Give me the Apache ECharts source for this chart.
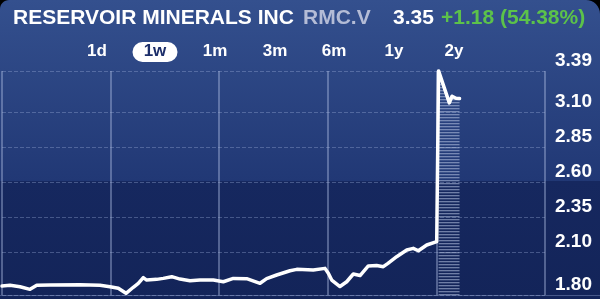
<!DOCTYPE html>
<html>
<head>
<meta charset="utf-8">
<script src="https://cdn.jsdelivr.net/npm/echarts@6/dist/echarts.min.js"></script>
<style>
html,body{margin:0;padding:0;background:#1a2d6a;}
#chart{width:600px;height:299px;}
</style>
</head>
<body>
<div id="chart"></div>
<script>
// ---- data ----
var titleText = 'RESERVOIR MINERALS INC';
var tickerText = 'RMC.V';
var lastPrice = '3.35';
var changeText = '+1.18 (54.38%)';
var periods = ['1d', '1w', '1m', '3m', '6m', '1y', '2y'];
var activePeriod = '1w';
var yTickValues = [1.80, 2.10, 2.35, 2.60, 2.85, 3.10, 3.39];
// position in trading days (0..5) and price
var dayPos = [0, 0.074, 0.166, 0.258, 0.320, 0.442, 0.718, 0.902, 0.994, 1.071, 1.142, 1.209, 1.255, 1.301, 1.332,
  1.424, 1.485, 1.563, 1.639, 1.731, 1.823, 1.946, 2.038, 2.130, 2.253, 2.376, 2.437, 2.529, 2.652, 2.714,
  2.866, 2.974, 3.005, 3.036, 3.112, 3.174, 3.235, 3.297, 3.373, 3.450, 3.511, 3.554, 3.634, 3.727, 3.787,
  3.834, 3.911, 4.003, 4.020, 4.119, 4.144, 4.180, 4.213];
var price = [1.864, 1.869, 1.859, 1.840, 1.869, 1.871, 1.873, 1.869, 1.859, 1.848, 1.812, 1.855, 1.883, 1.923, 1.906,
  1.911, 1.918, 1.930, 1.913, 1.901, 1.906, 1.906, 1.894, 1.918, 1.916, 1.883, 1.916, 1.942, 1.972, 1.982,
  1.977, 1.989, 1.954, 1.906, 1.860, 1.894, 1.949, 1.938, 2.006, 2.009, 2.001, 2.025, 2.072, 2.119, 2.131,
  2.114, 2.155, 2.179, 3.391, 3.164, 3.211, 3.197, 3.194];
var hatchFromIndex = 48; // shaded part starts at the spike

var lineData = dayPos.map(function (d, i) { return [d, price[i]]; });
var hatchData = lineData.slice(hatchFromIndex);

// stripe pattern
var pat = document.createElement('canvas');
pat.width = 4; pat.height = 3;
var pc = pat.getContext('2d');
pc.fillStyle = 'rgba(185,198,228,0.55)';
pc.fillRect(0, 0, 4, 1);
pc.fillStyle = 'rgba(185,198,228,0.18)';
pc.fillRect(0, 1, 4, 1);

// decorative rounded screen corners
function cornerPoints(cx, cy, r, a0, a1, px, py) {
  var pts = [[px, py]];
  for (var k = 0; k <= 8; k++) {
    var a = a0 + (a1 - a0) * k / 8;
    pts.push([cx + r * Math.cos(a), cy + r * Math.sin(a)]);
  }
  return pts;
}

var FONT = '"Liberation Sans", Arial, Helvetica, sans-serif';

var graphics = [
  { type: 'rect', silent: true, z: -10, shape: { x: 0, y: 0, width: 600, height: 181 },
    style: { fill: new echarts.graphic.LinearGradient(0, 0, 0, 1, [
      { offset: 0, color: '#34508e' }, { offset: 1, color: '#213875' }]) } },
  { type: 'rect', silent: true, z: -10, shape: { x: 0, y: 181, width: 600, height: 118 },
    style: { fill: new echarts.graphic.LinearGradient(0, 0, 0, 1, [
      { offset: 0, color: '#16285f' }, { offset: 1, color: '#132459' }]) } },
  { type: 'polygon', silent: true, z: 5, shape: { points: cornerPoints(9, 9, 9, Math.PI, Math.PI * 1.5, 0, 0) },
    style: { fill: '#000000' } },
  { type: 'polygon', silent: true, z: 5, shape: { points: cornerPoints(586, 14, 14, Math.PI * 1.5, Math.PI * 2, 600, 0) },
    style: { fill: '#000000' } },
  { type: 'line', silent: true, z: 1, shape: { x1: 0, y1: 295.5, x2: 600, y2: 295.5 },
    style: { stroke: 'rgba(170,185,225,0.35)', lineWidth: 1 } },
  { type: 'text', left: 13, top: 8, style: { text: titleText, fill: '#ffffff', font: 'bold 21px ' + FONT } },
  { type: 'text', left: 303, top: 8, style: { text: tickerText, fill: '#b4bcd6', font: 'bold 21px ' + FONT } },
  { type: 'text', left: 393, top: 8, style: { text: lastPrice, fill: '#ffffff', font: 'bold 21px ' + FONT } },
  { type: 'text', left: 441, top: 8, style: { text: changeText, fill: '#5cc24a', font: 'bold 21px ' + FONT } }
];
var periodCenters = [97, 155, 215, 275, 334, 394, 454];
periods.forEach(function (p, i) {
  var active = p === activePeriod;
  if (active) {
    graphics.push({ type: 'rect', silent: true, shape: { x: periodCenters[i] - 22.5, y: 42, width: 45, height: 20, r: 10 },
      style: { fill: '#ffffff' } });
  }
  graphics.push({ type: 'text', x: periodCenters[i], y: 51,
    style: { text: p, fill: active ? '#1c2e6a' : '#ffffff', font: 'bold 17px ' + FONT, align: 'center', verticalAlign: 'middle' } });
});

var chart = echarts.init(document.getElementById('chart'), null, { renderer: 'canvas' });
chart.setOption({
  animation: false,
  backgroundColor: 'transparent',
  grid: { left: 2, right: 55, top: 71, bottom: 4, containLabel: false },
  xAxis: {
    type: 'value', min: 0, max: 5, interval: 1,
    axisLine: { show: false }, axisTick: { show: false }, axisLabel: { show: false },
    splitLine: { show: true, lineStyle: { color: 'rgba(175,190,228,0.55)', width: 1.5 } }
  },
  yAxis: {
    type: 'value', position: 'right', min: 1.80, max: 3.39,
    axisLine: { show: false },
    axisTick: { show: false, customValues: yTickValues },
    axisLabel: {
      customValues: yTickValues,
      formatter: function (v) { return v.toFixed(2); },
      color: '#ffffff', fontSize: 19, fontWeight: 'bold', fontFamily: FONT,
      align: 'right', margin: 47, verticalAlign: 'bottom', padding: [0, 0, 1, 0]
    },
    splitLine: { show: true, lineStyle: { color: 'rgba(160,178,222,0.35)', width: 1, type: [4, 2] } }
  },
  graphic: graphics,
  series: [
    {
      type: 'line', data: hatchData, showSymbol: false, silent: true, z: 2,
      lineStyle: { width: 0, opacity: 0 },
      areaStyle: { origin: 'start', color: { image: pat, repeat: 'repeat' }, opacity: 1 }
    },
    {
      type: 'line', data: lineData, showSymbol: false, silent: true, z: 3,
      lineStyle: { color: '#ffffff', width: 3.5, join: 'round', cap: 'round' }
    }
  ]
});
</script>
</body>
</html>
